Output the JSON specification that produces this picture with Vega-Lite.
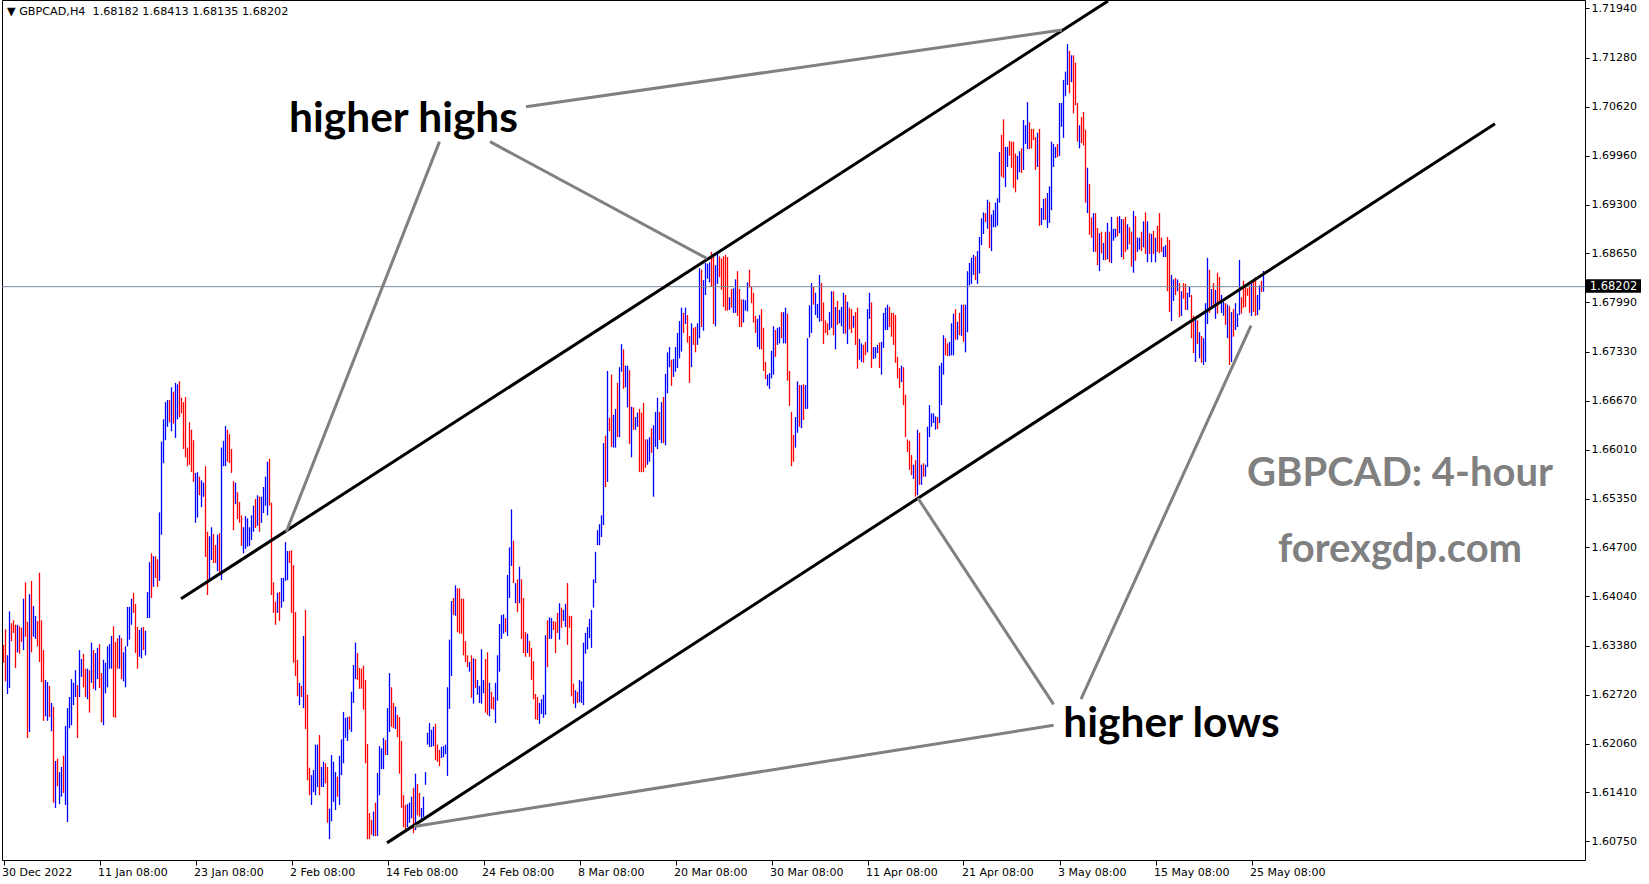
{
"$schema":"https://vega.github.io/schema/vega-lite/v6.json",
"width":1583,"height":860,
"autosize":{"type":"none"},
"padding":{"left":2,"top":0,"right":64,"bottom":24},
"background":"white",
"config":{"view":{"stroke":"#000000","strokeWidth":1}},
"title":{"text":"▼ GBPCAD,H4 \u00a01.68182 1.68413 1.68135 1.68202","anchor":"start","frame":"group","orient":"top","offset":-17,"dx":5,"font":"DejaVu Sans","fontSize":11.2,"fontWeight":"normal","color":"#000000"},
"datasets":{
"bars":[
{"i":0,"h":1.6339,"l":1.6315,"u":0},{"i":1,"h":1.6360,"l":1.6290,"u":0},{"i":2,"h":1.6325,"l":1.6273,"u":1},{"i":3,"h":1.6384,"l":1.6281,"u":1},{"i":4,"h":1.6368,"l":1.6344,"u":0},{"i":5,"h":1.6372,"l":1.6355,"u":0},{"i":6,"h":1.6366,"l":1.6308,"u":0},{"i":7,"h":1.6366,"l":1.6329,"u":1},{"i":8,"h":1.6364,"l":1.6327,"u":0},{"i":9,"h":1.6362,"l":1.6343,"u":0},
{"i":10,"h":1.6401,"l":1.6332,"u":1},{"i":11,"h":1.6423,"l":1.6350,"u":0},{"i":12,"h":1.6370,"l":1.6214,"u":0},{"i":13,"h":1.6407,"l":1.6222,"u":1},{"i":14,"h":1.6425,"l":1.6329,"u":0},{"i":15,"h":1.6391,"l":1.6350,"u":1},{"i":16,"h":1.6378,"l":1.6347,"u":1},{"i":17,"h":1.6371,"l":1.6337,"u":0},{"i":18,"h":1.6436,"l":1.6316,"u":0},{"i":19,"h":1.6372,"l":1.6289,"u":0},
{"i":20,"h":1.6332,"l":1.6237,"u":0},{"i":21,"h":1.6292,"l":1.6243,"u":1},{"i":22,"h":1.6289,"l":1.6237,"u":1},{"i":23,"h":1.6284,"l":1.6242,"u":0},{"i":24,"h":1.6261,"l":1.6223,"u":1},{"i":25,"h":1.6256,"l":1.6127,"u":0},{"i":26,"h":1.6183,"l":1.6120,"u":1},{"i":27,"h":1.6186,"l":1.6149,"u":0},{"i":28,"h":1.6168,"l":1.6125,"u":1},{"i":29,"h":1.6175,"l":1.6135,"u":1},
{"i":30,"h":1.6190,"l":1.6140,"u":0},{"i":31,"h":1.6230,"l":1.6124,"u":1},{"i":32,"h":1.6254,"l":1.6101,"u":1},{"i":33,"h":1.6269,"l":1.6227,"u":1},{"i":34,"h":1.6293,"l":1.6231,"u":1},{"i":35,"h":1.6288,"l":1.6258,"u":1},{"i":36,"h":1.6305,"l":1.6269,"u":1},{"i":37,"h":1.6285,"l":1.6214,"u":0},{"i":38,"h":1.6332,"l":1.6269,"u":1},{"i":39,"h":1.6320,"l":1.6296,"u":1},
{"i":40,"h":1.6327,"l":1.6282,"u":0},{"i":41,"h":1.6307,"l":1.6269,"u":0},{"i":42,"h":1.6307,"l":1.6266,"u":1},{"i":43,"h":1.6305,"l":1.6248,"u":0},{"i":44,"h":1.6342,"l":1.6288,"u":1},{"i":45,"h":1.6332,"l":1.6280,"u":0},{"i":46,"h":1.6328,"l":1.6278,"u":1},{"i":47,"h":1.6335,"l":1.6293,"u":1},{"i":48,"h":1.6340,"l":1.6281,"u":0},{"i":49,"h":1.6301,"l":1.6235,"u":0},
{"i":50,"h":1.6319,"l":1.6231,"u":1},{"i":51,"h":1.6315,"l":1.6274,"u":1},{"i":52,"h":1.6337,"l":1.6282,"u":1},{"i":53,"h":1.6340,"l":1.6307,"u":1},{"i":54,"h":1.6351,"l":1.6307,"u":1},{"i":55,"h":1.6364,"l":1.6242,"u":0},{"i":56,"h":1.6343,"l":1.6241,"u":0},{"i":57,"h":1.6348,"l":1.6307,"u":0},{"i":58,"h":1.6352,"l":1.6307,"u":1},{"i":59,"h":1.6348,"l":1.6293,"u":0},
{"i":60,"h":1.6329,"l":1.6290,"u":1},{"i":61,"h":1.6337,"l":1.6282,"u":1},{"i":62,"h":1.6390,"l":1.6337,"u":1},{"i":63,"h":1.6390,"l":1.6346,"u":1},{"i":64,"h":1.6401,"l":1.6366,"u":1},{"i":65,"h":1.6409,"l":1.6382,"u":0},{"i":66,"h":1.6394,"l":1.6328,"u":0},{"i":67,"h":1.6363,"l":1.6307,"u":0},{"i":68,"h":1.6359,"l":1.6323,"u":1},{"i":69,"h":1.6362,"l":1.6321,"u":1},
{"i":70,"h":1.6363,"l":1.6332,"u":0},{"i":71,"h":1.6358,"l":1.6325,"u":1},{"i":72,"h":1.6410,"l":1.6375,"u":1},{"i":73,"h":1.6450,"l":1.6375,"u":1},{"i":74,"h":1.6462,"l":1.6402,"u":0},{"i":75,"h":1.6458,"l":1.6417,"u":1},{"i":76,"h":1.6458,"l":1.6429,"u":0},{"i":77,"h":1.6454,"l":1.6417,"u":0},{"i":78,"h":1.6517,"l":1.6425,"u":1},{"i":79,"h":1.6612,"l":1.6487,"u":1},
{"i":80,"h":1.6642,"l":1.6583,"u":1},{"i":81,"h":1.6665,"l":1.6614,"u":1},{"i":82,"h":1.6668,"l":1.6632,"u":1},{"i":83,"h":1.6668,"l":1.6638,"u":0},{"i":84,"h":1.6685,"l":1.6626,"u":1},{"i":85,"h":1.6679,"l":1.6636,"u":0},{"i":86,"h":1.6691,"l":1.6617,"u":1},{"i":87,"h":1.6689,"l":1.6642,"u":1},{"i":88,"h":1.6693,"l":1.6645,"u":0},{"i":89,"h":1.6671,"l":1.6650,"u":0},
{"i":90,"h":1.6665,"l":1.6602,"u":0},{"i":91,"h":1.6672,"l":1.6591,"u":0},{"i":92,"h":1.6604,"l":1.6579,"u":0},{"i":93,"h":1.6638,"l":1.6581,"u":0},{"i":94,"h":1.6628,"l":1.6571,"u":0},{"i":95,"h":1.6614,"l":1.6558,"u":0},{"i":96,"h":1.6570,"l":1.6503,"u":1},{"i":97,"h":1.6571,"l":1.6510,"u":1},{"i":98,"h":1.6565,"l":1.6540,"u":0},{"i":99,"h":1.6560,"l":1.6524,"u":1},
{"i":100,"h":1.6557,"l":1.6538,"u":1},{"i":101,"h":1.6579,"l":1.6457,"u":0},{"i":102,"h":1.6491,"l":1.6406,"u":0},{"i":103,"h":1.6485,"l":1.6426,"u":1},{"i":104,"h":1.6497,"l":1.6453,"u":1},{"i":105,"h":1.6488,"l":1.6449,"u":0},{"i":106,"h":1.6473,"l":1.6449,"u":0},{"i":107,"h":1.6487,"l":1.6438,"u":1},{"i":108,"h":1.6489,"l":1.6437,"u":0},{"i":109,"h":1.6604,"l":1.6426,"u":1},
{"i":110,"h":1.6613,"l":1.6579,"u":1},{"i":111,"h":1.6633,"l":1.6579,"u":1},{"i":112,"h":1.6628,"l":1.6585,"u":0},{"i":113,"h":1.6622,"l":1.6583,"u":0},{"i":114,"h":1.6602,"l":1.6570,"u":0},{"i":115,"h":1.6559,"l":1.6493,"u":0},{"i":116,"h":1.6557,"l":1.6528,"u":1},{"i":117,"h":1.6544,"l":1.6508,"u":0},{"i":118,"h":1.6531,"l":1.6503,"u":0},{"i":119,"h":1.6513,"l":1.6472,"u":0},
{"i":120,"h":1.6497,"l":1.6462,"u":1},{"i":121,"h":1.6512,"l":1.6468,"u":1},{"i":122,"h":1.6509,"l":1.6471,"u":1},{"i":123,"h":1.6497,"l":1.6472,"u":1},{"i":124,"h":1.6513,"l":1.6480,"u":1},{"i":125,"h":1.6526,"l":1.6491,"u":1},{"i":126,"h":1.6535,"l":1.6496,"u":0},{"i":127,"h":1.6540,"l":1.6499,"u":1},{"i":128,"h":1.6538,"l":1.6491,"u":0},{"i":129,"h":1.6538,"l":1.6503,"u":1},
{"i":130,"h":1.6551,"l":1.6516,"u":1},{"i":131,"h":1.6565,"l":1.6526,"u":1},{"i":132,"h":1.6585,"l":1.6513,"u":1},{"i":133,"h":1.6589,"l":1.6526,"u":0},{"i":134,"h":1.6530,"l":1.6406,"u":0},{"i":135,"h":1.6423,"l":1.6382,"u":0},{"i":136,"h":1.6397,"l":1.6366,"u":0},{"i":137,"h":1.6409,"l":1.6382,"u":1},{"i":138,"h":1.6410,"l":1.6371,"u":0},{"i":139,"h":1.6429,"l":1.6389,"u":1},
{"i":140,"h":1.6429,"l":1.6397,"u":1},{"i":141,"h":1.6477,"l":1.6425,"u":1},{"i":142,"h":1.6465,"l":1.6426,"u":1},{"i":143,"h":1.6465,"l":1.6449,"u":0},{"i":144,"h":1.6466,"l":1.6382,"u":0},{"i":145,"h":1.6446,"l":1.6315,"u":0},{"i":146,"h":1.6383,"l":1.6297,"u":0},{"i":147,"h":1.6319,"l":1.6270,"u":0},{"i":148,"h":1.6288,"l":1.6258,"u":1},{"i":149,"h":1.6284,"l":1.6269,"u":0},
{"i":150,"h":1.6351,"l":1.6254,"u":1},{"i":151,"h":1.6386,"l":1.6226,"u":0},{"i":152,"h":1.6272,"l":1.6157,"u":0},{"i":153,"h":1.6174,"l":1.6137,"u":0},{"i":154,"h":1.6164,"l":1.6124,"u":1},{"i":155,"h":1.6171,"l":1.6141,"u":1},{"i":156,"h":1.6205,"l":1.6137,"u":1},{"i":157,"h":1.6205,"l":1.6148,"u":1},{"i":158,"h":1.6218,"l":1.6137,"u":0},{"i":159,"h":1.6175,"l":1.6148,"u":1},
{"i":160,"h":1.6182,"l":1.6148,"u":1},{"i":161,"h":1.6180,"l":1.6153,"u":0},{"i":162,"h":1.6175,"l":1.6100,"u":0},{"i":163,"h":1.6119,"l":1.6078,"u":1},{"i":164,"h":1.6191,"l":1.6102,"u":1},{"i":165,"h":1.6182,"l":1.6128,"u":1},{"i":166,"h":1.6168,"l":1.6117,"u":1},{"i":167,"h":1.6162,"l":1.6135,"u":0},{"i":168,"h":1.6190,"l":1.6124,"u":1},{"i":169,"h":1.6212,"l":1.6164,"u":1},
{"i":170,"h":1.6249,"l":1.6180,"u":1},{"i":171,"h":1.6241,"l":1.6214,"u":1},{"i":172,"h":1.6242,"l":1.6210,"u":1},{"i":173,"h":1.6243,"l":1.6225,"u":0},{"i":174,"h":1.6276,"l":1.6222,"u":1},{"i":175,"h":1.6312,"l":1.6261,"u":1},{"i":176,"h":1.6342,"l":1.6293,"u":1},{"i":177,"h":1.6328,"l":1.6292,"u":0},{"i":178,"h":1.6308,"l":1.6280,"u":0},{"i":179,"h":1.6307,"l":1.6280,"u":0},
{"i":180,"h":1.6311,"l":1.6252,"u":0},{"i":181,"h":1.6292,"l":1.6180,"u":0},{"i":182,"h":1.6206,"l":1.6078,"u":0},{"i":183,"h":1.6113,"l":1.6078,"u":0},{"i":184,"h":1.6104,"l":1.6084,"u":0},{"i":185,"h":1.6115,"l":1.6082,"u":1},{"i":186,"h":1.6127,"l":1.6082,"u":0},{"i":187,"h":1.6167,"l":1.6082,"u":1},{"i":188,"h":1.6203,"l":1.6137,"u":1},{"i":189,"h":1.6200,"l":1.6172,"u":1},
{"i":190,"h":1.6214,"l":1.6172,"u":1},{"i":191,"h":1.6211,"l":1.6191,"u":0},{"i":192,"h":1.6254,"l":1.6191,"u":1},{"i":193,"h":1.6301,"l":1.6222,"u":1},{"i":194,"h":1.6282,"l":1.6229,"u":0},{"i":195,"h":1.6261,"l":1.6227,"u":0},{"i":196,"h":1.6256,"l":1.6226,"u":1},{"i":197,"h":1.6245,"l":1.6215,"u":0},{"i":198,"h":1.6242,"l":1.6166,"u":0},{"i":199,"h":1.6210,"l":1.6120,"u":0},
{"i":200,"h":1.6137,"l":1.6094,"u":0},{"i":201,"h":1.6124,"l":1.6090,"u":0},{"i":202,"h":1.6125,"l":1.6094,"u":1},{"i":203,"h":1.6127,"l":1.6100,"u":1},{"i":204,"h":1.6135,"l":1.6106,"u":1},{"i":205,"h":1.6147,"l":1.6086,"u":0},{"i":206,"h":1.6166,"l":1.6090,"u":1},{"i":207,"h":1.6152,"l":1.6110,"u":0},{"i":208,"h":1.6140,"l":1.6108,"u":0},{"i":209,"h":1.6120,"l":1.6104,"u":1},
{"i":210,"h":1.6135,"l":1.6108,"u":1},{"i":211,"h":1.6168,"l":1.6151,"u":1},{"i":212,"h":1.6221,"l":1.6205,"u":1},{"i":213,"h":1.6234,"l":1.6202,"u":1},{"i":214,"h":1.6225,"l":1.6202,"u":1},{"i":215,"h":1.6229,"l":1.6203,"u":1},{"i":216,"h":1.6233,"l":1.6184,"u":0},{"i":217,"h":1.6205,"l":1.6182,"u":0},{"i":218,"h":1.6198,"l":1.6176,"u":0},{"i":219,"h":1.6202,"l":1.6187,"u":1},
{"i":220,"h":1.6203,"l":1.6188,"u":1},{"i":221,"h":1.6205,"l":1.6192,"u":1},{"i":222,"h":1.6282,"l":1.6163,"u":1},{"i":223,"h":1.6346,"l":1.6253,"u":1},{"i":224,"h":1.6398,"l":1.6297,"u":1},{"i":225,"h":1.6402,"l":1.6379,"u":0},{"i":226,"h":1.6419,"l":1.6378,"u":1},{"i":227,"h":1.6415,"l":1.6356,"u":0},{"i":228,"h":1.6415,"l":1.6354,"u":0},{"i":229,"h":1.6401,"l":1.6354,"u":0},
{"i":230,"h":1.6401,"l":1.6325,"u":0},{"i":231,"h":1.6344,"l":1.6316,"u":0},{"i":232,"h":1.6325,"l":1.6309,"u":0},{"i":233,"h":1.6316,"l":1.6303,"u":1},{"i":234,"h":1.6325,"l":1.6268,"u":0},{"i":235,"h":1.6321,"l":1.6260,"u":1},{"i":236,"h":1.6320,"l":1.6281,"u":0},{"i":237,"h":1.6292,"l":1.6272,"u":1},{"i":238,"h":1.6284,"l":1.6261,"u":1},{"i":239,"h":1.6333,"l":1.6260,"u":1},
{"i":240,"h":1.6292,"l":1.6274,"u":1},{"i":241,"h":1.6320,"l":1.6248,"u":0},{"i":242,"h":1.6329,"l":1.6245,"u":0},{"i":243,"h":1.6288,"l":1.6243,"u":1},{"i":244,"h":1.6276,"l":1.6253,"u":0},{"i":245,"h":1.6269,"l":1.6252,"u":0},{"i":246,"h":1.6288,"l":1.6234,"u":1},{"i":247,"h":1.6325,"l":1.6264,"u":1},{"i":248,"h":1.6367,"l":1.6303,"u":1},{"i":249,"h":1.6379,"l":1.6347,"u":1},
{"i":250,"h":1.6380,"l":1.6354,"u":1},{"i":251,"h":1.6375,"l":1.6356,"u":0},{"i":252,"h":1.6433,"l":1.6351,"u":1},{"i":253,"h":1.6470,"l":1.6402,"u":1},{"i":254,"h":1.6521,"l":1.6445,"u":1},{"i":255,"h":1.6479,"l":1.6422,"u":0},{"i":256,"h":1.6422,"l":1.6395,"u":1},{"i":257,"h":1.6427,"l":1.6383,"u":0},{"i":258,"h":1.6444,"l":1.6395,"u":1},{"i":259,"h":1.6427,"l":1.6347,"u":0},
{"i":260,"h":1.6402,"l":1.6328,"u":0},{"i":261,"h":1.6356,"l":1.6323,"u":0},{"i":262,"h":1.6354,"l":1.6328,"u":1},{"i":263,"h":1.6344,"l":1.6323,"u":0},{"i":264,"h":1.6335,"l":1.6292,"u":0},{"i":265,"h":1.6317,"l":1.6266,"u":0},{"i":266,"h":1.6273,"l":1.6239,"u":0},{"i":267,"h":1.6269,"l":1.6238,"u":0},{"i":268,"h":1.6261,"l":1.6233,"u":1},{"i":269,"h":1.6266,"l":1.6246,"u":1},
{"i":270,"h":1.6272,"l":1.6241,"u":1},{"i":271,"h":1.6352,"l":1.6245,"u":1},{"i":272,"h":1.6372,"l":1.6309,"u":0},{"i":273,"h":1.6376,"l":1.6347,"u":1},{"i":274,"h":1.6375,"l":1.6347,"u":1},{"i":275,"h":1.6371,"l":1.6359,"u":0},{"i":276,"h":1.6370,"l":1.6328,"u":0},{"i":277,"h":1.6382,"l":1.6355,"u":0},{"i":278,"h":1.6395,"l":1.6346,"u":1},{"i":279,"h":1.6389,"l":1.6362,"u":0},
{"i":280,"h":1.6386,"l":1.6371,"u":1},{"i":281,"h":1.6394,"l":1.6363,"u":1},{"i":282,"h":1.6422,"l":1.6339,"u":0},{"i":283,"h":1.6378,"l":1.6362,"u":0},{"i":284,"h":1.6378,"l":1.6270,"u":0},{"i":285,"h":1.6287,"l":1.6260,"u":0},{"i":286,"h":1.6278,"l":1.6254,"u":1},{"i":287,"h":1.6276,"l":1.6261,"u":0},{"i":288,"h":1.6292,"l":1.6262,"u":1},{"i":289,"h":1.6290,"l":1.6261,"u":1},
{"i":290,"h":1.6342,"l":1.6258,"u":1},{"i":291,"h":1.6355,"l":1.6327,"u":1},{"i":292,"h":1.6363,"l":1.6333,"u":1},{"i":293,"h":1.6374,"l":1.6348,"u":1},{"i":294,"h":1.6386,"l":1.6335,"u":1},{"i":295,"h":1.6427,"l":1.6389,"u":1},{"i":296,"h":1.6464,"l":1.6422,"u":1},{"i":297,"h":1.6493,"l":1.6473,"u":1},{"i":298,"h":1.6501,"l":1.6473,"u":1},{"i":299,"h":1.6513,"l":1.6484,"u":1},
{"i":300,"h":1.6610,"l":1.6500,"u":1},{"i":301,"h":1.6620,"l":1.6551,"u":0},{"i":302,"h":1.6707,"l":1.6558,"u":1},{"i":303,"h":1.6644,"l":1.6626,"u":0},{"i":304,"h":1.6702,"l":1.6605,"u":0},{"i":305,"h":1.6648,"l":1.6604,"u":1},{"i":306,"h":1.6656,"l":1.6604,"u":1},{"i":307,"h":1.6691,"l":1.6618,"u":0},{"i":308,"h":1.6712,"l":1.6618,"u":1},{"i":309,"h":1.6743,"l":1.6706,"u":1},
{"i":310,"h":1.6736,"l":1.6683,"u":0},{"i":311,"h":1.6714,"l":1.6685,"u":1},{"i":312,"h":1.6714,"l":1.6658,"u":1},{"i":313,"h":1.6708,"l":1.6609,"u":0},{"i":314,"h":1.6659,"l":1.6591,"u":1},{"i":315,"h":1.6658,"l":1.6628,"u":0},{"i":316,"h":1.6645,"l":1.6628,"u":1},{"i":317,"h":1.6651,"l":1.6632,"u":1},{"i":318,"h":1.6656,"l":1.6571,"u":0},{"i":319,"h":1.6651,"l":1.6571,"u":0},
{"i":320,"h":1.6664,"l":1.6571,"u":0},{"i":321,"h":1.6615,"l":1.6577,"u":0},{"i":322,"h":1.6615,"l":1.6581,"u":1},{"i":323,"h":1.6618,"l":1.6585,"u":1},{"i":324,"h":1.6630,"l":1.6597,"u":0},{"i":325,"h":1.6634,"l":1.6538,"u":1},{"i":326,"h":1.6652,"l":1.6605,"u":1},{"i":327,"h":1.6671,"l":1.6602,"u":1},{"i":328,"h":1.6652,"l":1.6614,"u":0},{"i":329,"h":1.6665,"l":1.6610,"u":1},
{"i":330,"h":1.6672,"l":1.6610,"u":0},{"i":331,"h":1.6703,"l":1.6607,"u":1},{"i":332,"h":1.6732,"l":1.6677,"u":1},{"i":333,"h":1.6739,"l":1.6712,"u":1},{"i":334,"h":1.6722,"l":1.6687,"u":0},{"i":335,"h":1.6723,"l":1.6699,"u":1},{"i":336,"h":1.6739,"l":1.6706,"u":1},{"i":337,"h":1.6758,"l":1.6711,"u":1},{"i":338,"h":1.6774,"l":1.6724,"u":1},{"i":339,"h":1.6792,"l":1.6733,"u":1},
{"i":340,"h":1.6785,"l":1.6758,"u":0},{"i":341,"h":1.6792,"l":1.6770,"u":1},{"i":342,"h":1.6782,"l":1.6745,"u":0},{"i":343,"h":1.6754,"l":1.6691,"u":0},{"i":344,"h":1.6771,"l":1.6712,"u":1},{"i":345,"h":1.6765,"l":1.6742,"u":0},{"i":346,"h":1.6766,"l":1.6732,"u":0},{"i":347,"h":1.6771,"l":1.6742,"u":1},{"i":348,"h":1.6845,"l":1.6751,"u":1},{"i":349,"h":1.6843,"l":1.6766,"u":0},
{"i":350,"h":1.6829,"l":1.6761,"u":1},{"i":351,"h":1.6852,"l":1.6809,"u":1},{"i":352,"h":1.6851,"l":1.6831,"u":1},{"i":353,"h":1.6853,"l":1.6826,"u":1},{"i":354,"h":1.6867,"l":1.6820,"u":0},{"i":355,"h":1.6864,"l":1.6770,"u":0},{"i":356,"h":1.6849,"l":1.6767,"u":1},{"i":357,"h":1.6864,"l":1.6824,"u":1},{"i":358,"h":1.6861,"l":1.6833,"u":0},{"i":359,"h":1.6858,"l":1.6816,"u":0},
{"i":360,"h":1.6861,"l":1.6793,"u":0},{"i":361,"h":1.6863,"l":1.6788,"u":0},{"i":362,"h":1.6860,"l":1.6788,"u":0},{"i":363,"h":1.6806,"l":1.6789,"u":1},{"i":364,"h":1.6817,"l":1.6792,"u":0},{"i":365,"h":1.6818,"l":1.6785,"u":1},{"i":366,"h":1.6830,"l":1.6785,"u":1},{"i":367,"h":1.6841,"l":1.6781,"u":0},{"i":368,"h":1.6817,"l":1.6766,"u":0},{"i":369,"h":1.6803,"l":1.6766,"u":0},
{"i":370,"h":1.6803,"l":1.6772,"u":1},{"i":371,"h":1.6802,"l":1.6788,"u":1},{"i":372,"h":1.6826,"l":1.6787,"u":1},{"i":373,"h":1.6843,"l":1.6819,"u":0},{"i":374,"h":1.6820,"l":1.6798,"u":0},{"i":375,"h":1.6812,"l":1.6772,"u":0},{"i":376,"h":1.6781,"l":1.6758,"u":0},{"i":377,"h":1.6777,"l":1.6739,"u":1},{"i":378,"h":1.6782,"l":1.6736,"u":1},{"i":379,"h":1.6790,"l":1.6736,"u":0},
{"i":380,"h":1.6765,"l":1.6707,"u":0},{"i":381,"h":1.6719,"l":1.6696,"u":0},{"i":382,"h":1.6702,"l":1.6687,"u":1},{"i":383,"h":1.6704,"l":1.6683,"u":1},{"i":384,"h":1.6734,"l":1.6697,"u":1},{"i":385,"h":1.6767,"l":1.6702,"u":1},{"i":386,"h":1.6762,"l":1.6726,"u":0},{"i":387,"h":1.6765,"l":1.6742,"u":1},{"i":388,"h":1.6766,"l":1.6744,"u":1},{"i":389,"h":1.6786,"l":1.6751,"u":0},
{"i":390,"h":1.6786,"l":1.6744,"u":1},{"i":391,"h":1.6792,"l":1.6744,"u":1},{"i":392,"h":1.6784,"l":1.6694,"u":0},{"i":393,"h":1.6707,"l":1.6660,"u":0},{"i":394,"h":1.6652,"l":1.6579,"u":0},{"i":395,"h":1.6621,"l":1.6585,"u":0},{"i":396,"h":1.6645,"l":1.6604,"u":1},{"i":397,"h":1.6693,"l":1.6624,"u":1},{"i":398,"h":1.6688,"l":1.6632,"u":0},{"i":399,"h":1.6688,"l":1.6630,"u":1},
{"i":400,"h":1.6689,"l":1.6641,"u":0},{"i":401,"h":1.6688,"l":1.6656,"u":1},{"i":402,"h":1.6751,"l":1.6656,"u":1},{"i":403,"h":1.6795,"l":1.6752,"u":1},{"i":404,"h":1.6825,"l":1.6758,"u":1},{"i":405,"h":1.6820,"l":1.6796,"u":0},{"i":406,"h":1.6812,"l":1.6782,"u":1},{"i":407,"h":1.6797,"l":1.6778,"u":1},{"i":408,"h":1.6836,"l":1.6773,"u":1},{"i":409,"h":1.6825,"l":1.6774,"u":0},
{"i":410,"h":1.6799,"l":1.6743,"u":0},{"i":411,"h":1.6775,"l":1.6758,"u":0},{"i":412,"h":1.6771,"l":1.6755,"u":0},{"i":413,"h":1.6786,"l":1.6762,"u":1},{"i":414,"h":1.6814,"l":1.6765,"u":1},{"i":415,"h":1.6814,"l":1.6755,"u":0},{"i":416,"h":1.6793,"l":1.6736,"u":1},{"i":417,"h":1.6801,"l":1.6769,"u":0},{"i":418,"h":1.6789,"l":1.6771,"u":1},{"i":419,"h":1.6793,"l":1.6767,"u":1},
{"i":420,"h":1.6812,"l":1.6757,"u":1},{"i":421,"h":1.6809,"l":1.6757,"u":0},{"i":422,"h":1.6800,"l":1.6743,"u":1},{"i":423,"h":1.6792,"l":1.6763,"u":0},{"i":424,"h":1.6790,"l":1.6758,"u":0},{"i":425,"h":1.6781,"l":1.6765,"u":1},{"i":426,"h":1.6786,"l":1.6742,"u":0},{"i":427,"h":1.6792,"l":1.6710,"u":0},{"i":428,"h":1.6750,"l":1.6722,"u":1},{"i":429,"h":1.6744,"l":1.6719,"u":1},
{"i":430,"h":1.6742,"l":1.6718,"u":0},{"i":431,"h":1.6746,"l":1.6728,"u":0},{"i":432,"h":1.6790,"l":1.6732,"u":1},{"i":433,"h":1.6812,"l":1.6777,"u":1},{"i":434,"h":1.6799,"l":1.6711,"u":0},{"i":435,"h":1.6739,"l":1.6723,"u":1},{"i":436,"h":1.6739,"l":1.6724,"u":1},{"i":437,"h":1.6742,"l":1.6731,"u":1},{"i":438,"h":1.6745,"l":1.6711,"u":0},{"i":439,"h":1.6746,"l":1.6702,"u":1},
{"i":440,"h":1.6785,"l":1.6738,"u":1},{"i":441,"h":1.6792,"l":1.6762,"u":1},{"i":442,"h":1.6796,"l":1.6762,"u":1},{"i":443,"h":1.6793,"l":1.6766,"u":0},{"i":444,"h":1.6785,"l":1.6753,"u":0},{"i":445,"h":1.6785,"l":1.6742,"u":0},{"i":446,"h":1.6782,"l":1.6718,"u":0},{"i":447,"h":1.6726,"l":1.6697,"u":0},{"i":448,"h":1.6711,"l":1.6684,"u":0},{"i":449,"h":1.6714,"l":1.6692,"u":1},
{"i":450,"h":1.6712,"l":1.6661,"u":0},{"i":451,"h":1.6675,"l":1.6618,"u":0},{"i":452,"h":1.6615,"l":1.6598,"u":0},{"i":453,"h":1.6613,"l":1.6574,"u":0},{"i":454,"h":1.6594,"l":1.6567,"u":0},{"i":455,"h":1.6581,"l":1.6562,"u":1},{"i":456,"h":1.6587,"l":1.6538,"u":0},{"i":457,"h":1.6628,"l":1.6540,"u":1},{"i":458,"h":1.6624,"l":1.6554,"u":0},{"i":459,"h":1.6581,"l":1.6554,"u":1},
{"i":460,"h":1.6583,"l":1.6565,"u":0},{"i":461,"h":1.6581,"l":1.6565,"u":1},{"i":462,"h":1.6632,"l":1.6578,"u":1},{"i":463,"h":1.6661,"l":1.6618,"u":1},{"i":464,"h":1.6650,"l":1.6632,"u":1},{"i":465,"h":1.6650,"l":1.6637,"u":1},{"i":466,"h":1.6646,"l":1.6628,"u":1},{"i":467,"h":1.6645,"l":1.6629,"u":0},{"i":468,"h":1.6714,"l":1.6637,"u":1},{"i":469,"h":1.6718,"l":1.6661,"u":1},
{"i":470,"h":1.6755,"l":1.6702,"u":1},{"i":471,"h":1.6751,"l":1.6728,"u":0},{"i":472,"h":1.6744,"l":1.6727,"u":0},{"i":473,"h":1.6746,"l":1.6727,"u":1},{"i":474,"h":1.6771,"l":1.6728,"u":1},{"i":475,"h":1.6784,"l":1.6728,"u":1},{"i":476,"h":1.6790,"l":1.6749,"u":0},{"i":477,"h":1.6773,"l":1.6749,"u":1},{"i":478,"h":1.6785,"l":1.6755,"u":0},{"i":479,"h":1.6796,"l":1.6754,"u":1},
{"i":480,"h":1.6796,"l":1.6746,"u":0},{"i":481,"h":1.6796,"l":1.6732,"u":1},{"i":482,"h":1.6841,"l":1.6759,"u":1},{"i":483,"h":1.6852,"l":1.6822,"u":1},{"i":484,"h":1.6859,"l":1.6824,"u":1},{"i":485,"h":1.6863,"l":1.6836,"u":1},{"i":486,"h":1.6861,"l":1.6829,"u":0},{"i":487,"h":1.6868,"l":1.6824,"u":1},{"i":488,"h":1.6887,"l":1.6838,"u":1},{"i":489,"h":1.6912,"l":1.6876,"u":1},
{"i":490,"h":1.6920,"l":1.6891,"u":1},{"i":491,"h":1.6919,"l":1.6907,"u":0},{"i":492,"h":1.6937,"l":1.6898,"u":1},{"i":493,"h":1.6934,"l":1.6872,"u":0},{"i":494,"h":1.6917,"l":1.6868,"u":1},{"i":495,"h":1.6923,"l":1.6900,"u":1},{"i":496,"h":1.6933,"l":1.6900,"u":1},{"i":497,"h":1.6939,"l":1.6902,"u":1},{"i":498,"h":1.7001,"l":1.6933,"u":1},{"i":499,"h":1.7024,"l":1.6968,"u":0},
{"i":500,"h":1.7045,"l":1.6966,"u":0},{"i":501,"h":1.7008,"l":1.6954,"u":1},{"i":502,"h":1.7008,"l":1.6981,"u":1},{"i":503,"h":1.7016,"l":1.6996,"u":0},{"i":504,"h":1.7015,"l":1.6980,"u":0},{"i":505,"h":1.7015,"l":1.6953,"u":0},{"i":506,"h":1.6999,"l":1.6947,"u":0},{"i":507,"h":1.6996,"l":1.6964,"u":1},{"i":508,"h":1.7002,"l":1.6974,"u":1},{"i":509,"h":1.7006,"l":1.6973,"u":0},
{"i":510,"h":1.7044,"l":1.6977,"u":1},{"i":511,"h":1.7037,"l":1.7012,"u":1},{"i":512,"h":1.7068,"l":1.7005,"u":1},{"i":513,"h":1.7041,"l":1.7005,"u":0},{"i":514,"h":1.7032,"l":1.7006,"u":0},{"i":515,"h":1.7032,"l":1.7017,"u":0},{"i":516,"h":1.7021,"l":1.6977,"u":0},{"i":517,"h":1.7027,"l":1.6981,"u":1},{"i":518,"h":1.7032,"l":1.6902,"u":0},{"i":519,"h":1.6926,"l":1.6903,"u":1},
{"i":520,"h":1.6938,"l":1.6910,"u":1},{"i":521,"h":1.6939,"l":1.6910,"u":0},{"i":522,"h":1.6946,"l":1.6899,"u":1},{"i":523,"h":1.6955,"l":1.6906,"u":1},{"i":524,"h":1.7015,"l":1.6923,"u":1},{"i":525,"h":1.7012,"l":1.6981,"u":1},{"i":526,"h":1.7008,"l":1.6993,"u":1},{"i":527,"h":1.7012,"l":1.6994,"u":0},{"i":528,"h":1.7067,"l":1.6996,"u":1},{"i":529,"h":1.7067,"l":1.7035,"u":1},
{"i":530,"h":1.7098,"l":1.7020,"u":1},{"i":531,"h":1.7109,"l":1.7076,"u":1},{"i":532,"h":1.7146,"l":1.7091,"u":1},{"i":533,"h":1.7137,"l":1.7080,"u":0},{"i":534,"h":1.7131,"l":1.7095,"u":1},{"i":535,"h":1.7131,"l":1.7053,"u":0},{"i":536,"h":1.7121,"l":1.7064,"u":0},{"i":537,"h":1.7067,"l":1.7015,"u":0},{"i":538,"h":1.7037,"l":1.7006,"u":1},{"i":539,"h":1.7048,"l":1.7013,"u":0},
{"i":540,"h":1.7055,"l":1.7010,"u":0},{"i":541,"h":1.7031,"l":1.6933,"u":0},{"i":542,"h":1.6980,"l":1.6919,"u":1},{"i":543,"h":1.6958,"l":1.6890,"u":0},{"i":544,"h":1.6913,"l":1.6886,"u":0},{"i":545,"h":1.6919,"l":1.6867,"u":1},{"i":546,"h":1.6919,"l":1.6867,"u":0},{"i":547,"h":1.6899,"l":1.6849,"u":0},{"i":548,"h":1.6892,"l":1.6841,"u":1},{"i":549,"h":1.6894,"l":1.6865,"u":0},
{"i":550,"h":1.6879,"l":1.6856,"u":1},{"i":551,"h":1.6894,"l":1.6856,"u":0},{"i":552,"h":1.6906,"l":1.6857,"u":1},{"i":553,"h":1.6894,"l":1.6853,"u":0},{"i":554,"h":1.6914,"l":1.6852,"u":1},{"i":555,"h":1.6898,"l":1.6882,"u":1},{"i":556,"h":1.6898,"l":1.6886,"u":1},{"i":557,"h":1.6914,"l":1.6888,"u":0},{"i":558,"h":1.6915,"l":1.6892,"u":1},{"i":559,"h":1.6911,"l":1.6860,"u":1},
{"i":560,"h":1.6911,"l":1.6857,"u":0},{"i":561,"h":1.6914,"l":1.6867,"u":0},{"i":562,"h":1.6904,"l":1.6870,"u":1},{"i":563,"h":1.6900,"l":1.6877,"u":0},{"i":564,"h":1.6894,"l":1.6847,"u":0},{"i":565,"h":1.6922,"l":1.6839,"u":1},{"i":566,"h":1.6915,"l":1.6855,"u":0},{"i":567,"h":1.6886,"l":1.6867,"u":1},{"i":568,"h":1.6886,"l":1.6870,"u":1},{"i":569,"h":1.6894,"l":1.6868,"u":0},
{"i":570,"h":1.6908,"l":1.6873,"u":1},{"i":571,"h":1.6920,"l":1.6864,"u":0},{"i":572,"h":1.6908,"l":1.6853,"u":1},{"i":573,"h":1.6892,"l":1.6864,"u":0},{"i":574,"h":1.6891,"l":1.6853,"u":1},{"i":575,"h":1.6895,"l":1.6864,"u":0},{"i":576,"h":1.6886,"l":1.6853,"u":1},{"i":577,"h":1.6902,"l":1.6867,"u":0},{"i":578,"h":1.6919,"l":1.6865,"u":0},{"i":579,"h":1.6886,"l":1.6867,"u":0},
{"i":580,"h":1.6874,"l":1.6860,"u":1},{"i":581,"h":1.6876,"l":1.6860,"u":1},{"i":582,"h":1.6887,"l":1.6814,"u":0},{"i":583,"h":1.6883,"l":1.6786,"u":0},{"i":584,"h":1.6836,"l":1.6774,"u":1},{"i":585,"h":1.6830,"l":1.6801,"u":1},{"i":586,"h":1.6832,"l":1.6809,"u":0},{"i":587,"h":1.6830,"l":1.6814,"u":1},{"i":588,"h":1.6825,"l":1.6779,"u":0},{"i":589,"h":1.6814,"l":1.6781,"u":1},
{"i":590,"h":1.6825,"l":1.6804,"u":0},{"i":591,"h":1.6824,"l":1.6789,"u":0},{"i":592,"h":1.6812,"l":1.6789,"u":1},{"i":593,"h":1.6820,"l":1.6806,"u":1},{"i":594,"h":1.6809,"l":1.6751,"u":0},{"i":595,"h":1.6781,"l":1.6731,"u":0},{"i":596,"h":1.6779,"l":1.6719,"u":1},{"i":597,"h":1.6775,"l":1.6743,"u":0},{"i":598,"h":1.6759,"l":1.6724,"u":1},{"i":599,"h":1.6754,"l":1.6718,"u":0},
{"i":600,"h":1.6751,"l":1.6715,"u":1},{"i":601,"h":1.6798,"l":1.6719,"u":1},{"i":602,"h":1.6859,"l":1.6770,"u":1},{"i":603,"h":1.6843,"l":1.6785,"u":0},{"i":604,"h":1.6817,"l":1.6794,"u":1},{"i":605,"h":1.6825,"l":1.6796,"u":0},{"i":606,"h":1.6816,"l":1.6777,"u":1},{"i":607,"h":1.6839,"l":1.6784,"u":0},{"i":608,"h":1.6833,"l":1.6798,"u":0},{"i":609,"h":1.6809,"l":1.6785,"u":1},
{"i":610,"h":1.6800,"l":1.6781,"u":1},{"i":611,"h":1.6798,"l":1.6769,"u":0},{"i":612,"h":1.6796,"l":1.6751,"u":1},{"i":613,"h":1.6794,"l":1.6715,"u":0},{"i":614,"h":1.6786,"l":1.6719,"u":1},{"i":615,"h":1.6790,"l":1.6753,"u":0},{"i":616,"h":1.6798,"l":1.6762,"u":1},{"i":617,"h":1.6784,"l":1.6766,"u":1},{"i":618,"h":1.6856,"l":1.6782,"u":1},{"i":619,"h":1.6806,"l":1.6784,"u":0},
{"i":620,"h":1.6828,"l":1.6792,"u":0},{"i":621,"h":1.6820,"l":1.6793,"u":0},{"i":622,"h":1.6818,"l":1.6808,"u":0},{"i":623,"h":1.6822,"l":1.6785,"u":0},{"i":624,"h":1.6825,"l":1.6781,"u":1},{"i":625,"h":1.6828,"l":1.6786,"u":0},{"i":626,"h":1.6833,"l":1.6781,"u":0},{"i":627,"h":1.6809,"l":1.6782,"u":1},{"i":628,"h":1.6822,"l":1.6789,"u":1},{"i":629,"h":1.6828,"l":1.6813,"u":0},
{"i":630,"h":1.68413,"l":1.68135,"u":1}
],
"channel":[
{"i":88.75,"p":1.6401,"i2":552.25,"p2":1.7204},
{"i":191.75,"p":1.6073,"i2":745.75,"p2":1.7039}
],
"pointers":[
{"i":261.25,"p":1.7062,"i2":529.25,"p2":1.7165},
{"i":218,"p":1.7015,"i2":141.4,"p2":1.6491},
{"i":243.25,"p":1.7015,"i2":351.75,"p2":1.6858},
{"i":457.25,"p":1.6536,"i2":525.05,"p2":1.6259},
{"i":538.75,"p":1.6266,"i2":623.75,"p2":1.6768},
{"i":205.4,"p":1.6095,"i2":525.05,"p2":1.6231}
],
"notes":[
{"t":"higher highs","i":200,"p":1.7045},
{"t":"higher lows","i":584,"p":1.6233}
],
"marks":[
{"t":"GBPCAD: 4-hour","i":698.25,"p":1.6569},
{"t":"forexgdp.com","i":698.25,"p":1.6466}
],
"last":[{"t":"1.68202","p":1.68202,"i":791.25,"i2":818.75,"pa":1.6830,"pb":1.6812,"ic":805}]
},
"layer":[
{"data":{"name":"bars"},"mark":{"type":"rule","strokeWidth":1.3},
 "encoding":{
  "x":{"field":"i","type":"quantitative","scale":{"domain":[-0.75,790.75],"nice":false,"zero":false},
   "axis":{"title":null,"values":[0,48,96,144,192,240,288,336,384,432,480,528,576,624],"labelExpr":"['30 Dec 2022','11 Jan 08:00','23 Jan 08:00','2 Feb 08:00','14 Feb 08:00','24 Feb 08:00','8 Mar 08:00','20 Mar 08:00','30 Mar 08:00','11 Apr 08:00','21 Apr 08:00','3 May 08:00','15 May 08:00','25 May 08:00'][round(datum.value/48)]","grid":false,"domain":false,"ticks":true,"tickSize":5,"tickColor":"#000000","labelAlign":"left","labelBaseline":"top","labelPadding":1,"labelOffset":-2,"labelFont":"DejaVu Sans","labelFontSize":11,"labelColor":"#000000","labelOverlap":false,"labelFlush":false}},
  "y":{"field":"l","type":"quantitative","scale":{"domain":[1.605,1.72053],"nice":false,"zero":false},
   "axis":{"title":null,"orient":"right","values":[1.7194,1.7128,1.7062,1.6996,1.693,1.6865,1.6799,1.6733,1.6667,1.6601,1.6535,1.647,1.6404,1.6338,1.6272,1.6206,1.6141,1.6075],"format":".5f","grid":false,"domain":false,"ticks":true,"tickSize":4,"tickColor":"#000000","labelPadding":2,"labelFont":"DejaVu Sans","labelFontSize":11,"labelColor":"#000000","labelBaseline":"middle","labelOverlap":false,"labelFlush":false}},
  "y2":{"field":"h"},
  "color":{"field":"u","type":"nominal","scale":{"domain":[0,1],"range":["#ff0000","#0000ff"]},"legend":null}}},
{"data":{"name":"last"},"mark":{"type":"rule","color":"#778899","strokeWidth":1},
 "encoding":{"y":{"field":"p","type":"quantitative","scale":{"domain":[1.605,1.72053],"nice":false,"zero":false}}}},
{"data":{"name":"channel"},"mark":{"type":"rule","color":"#000000","strokeWidth":3,"clip":true},
 "encoding":{"x":{"field":"i","type":"quantitative","scale":{"domain":[-0.75,790.75],"nice":false,"zero":false}},"x2":{"field":"i2"},
  "y":{"field":"p","type":"quantitative","scale":{"domain":[1.605,1.72053],"nice":false,"zero":false}},"y2":{"field":"p2"}}},
{"data":{"name":"pointers"},"mark":{"type":"rule","color":"#808080","strokeWidth":3,"clip":true},
 "encoding":{"x":{"field":"i","type":"quantitative","scale":{"domain":[-0.75,790.75],"nice":false,"zero":false}},"x2":{"field":"i2"},
  "y":{"field":"p","type":"quantitative","scale":{"domain":[1.605,1.72053],"nice":false,"zero":false}},"y2":{"field":"p2"}}},
{"data":{"name":"notes"},"mark":{"type":"text","font":"Lato","fontWeight":"bold","fontSize":42.5,"color":"#000000","align":"center","baseline":"middle"},
 "encoding":{"x":{"field":"i","type":"quantitative","scale":{"domain":[-0.75,790.75],"nice":false,"zero":false}},
  "y":{"field":"p","type":"quantitative","scale":{"domain":[1.605,1.72053],"nice":false,"zero":false}},"text":{"field":"t"}}},
{"data":{"name":"marks"},"mark":{"type":"text","font":"Lato","fontWeight":"bold","fontSize":40,"color":"#808080","align":"center","baseline":"middle"},
 "encoding":{"x":{"field":"i","type":"quantitative","scale":{"domain":[-0.75,790.75],"nice":false,"zero":false}},
  "y":{"field":"p","type":"quantitative","scale":{"domain":[1.605,1.72053],"nice":false,"zero":false}},"text":{"field":"t"}}},
{"data":{"name":"last"},"mark":{"type":"rect","color":"#000000"},
 "encoding":{"x":{"field":"i","type":"quantitative","scale":{"domain":[-0.75,790.75],"nice":false,"zero":false}},"x2":{"field":"i2"},
  "y":{"field":"pa","type":"quantitative","scale":{"domain":[1.605,1.72053],"nice":false,"zero":false}},"y2":{"field":"pb"}}},
{"data":{"name":"last"},"mark":{"type":"text","font":"DejaVu Sans","fontSize":11.5,"color":"#ffffff","align":"center","baseline":"middle"},
 "encoding":{"x":{"field":"ic","type":"quantitative","scale":{"domain":[-0.75,790.75],"nice":false,"zero":false}},
  "y":{"field":"p","type":"quantitative","scale":{"domain":[1.605,1.72053],"nice":false,"zero":false}},"text":{"field":"t"}}}
]
}
